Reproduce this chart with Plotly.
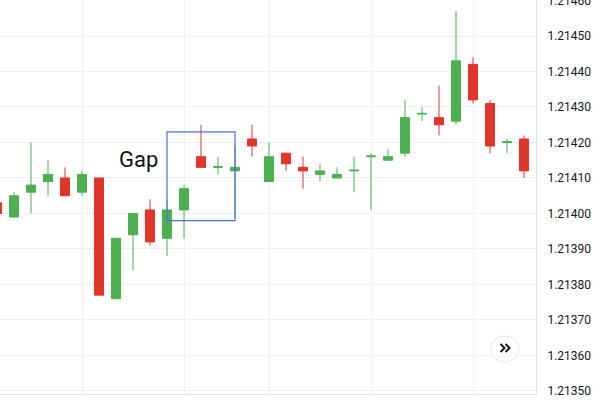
import plotly.graph_objects as go

# Candle index (bar slot) and OHLC values
idx = list(range(-1, 31))
opens = [1.21403, 1.21399, 1.21406, 1.21409, 1.21410, 1.21406, 1.21410, 1.21376, 1.21394, 1.21401,
         1.21393, 1.21401, 1.21416, 1.21413, 1.21412, 1.21421, 1.21409, 1.21417, 1.21413, 1.21411,
         1.21410, 1.21412, 1.21416, 1.21415, 1.21417, 1.21428, 1.21427, 1.21426, 1.21442, 1.21431,
         1.21420, 1.21421]
highs = [1.21403, 1.21406, 1.21420, 1.21415, 1.21413, 1.21412, 1.21410, 1.21393, 1.21400, 1.21404,
         1.21404, 1.21408, 1.21425, 1.21416, 1.21419, 1.21425, 1.21420, 1.21417, 1.21416, 1.21414,
         1.21413, 1.21416, 1.21417, 1.21418, 1.21432, 1.21430, 1.21436, 1.21457, 1.21444, 1.21432,
         1.21421, 1.21422]
lows = [1.21400, 1.21399, 1.21400, 1.21405, 1.21405, 1.21405, 1.21377, 1.21376, 1.21384, 1.21391,
        1.21388, 1.21393, 1.21413, 1.21411, 1.21399, 1.21416, 1.21409, 1.21412, 1.21407, 1.21409,
        1.21410, 1.21406, 1.21401, 1.21415, 1.21416, 1.21426, 1.21422, 1.21425, 1.21431, 1.21417,
        1.21417, 1.21410]
closes = [1.21400, 1.21405, 1.21408, 1.21411, 1.21405, 1.21411, 1.21377, 1.21393, 1.21400, 1.21392,
          1.21401, 1.21407, 1.21413, 1.214132, 1.21413, 1.21419, 1.21416, 1.21414, 1.21412, 1.21412,
          1.21411, 1.214122, 1.214162, 1.21416, 1.21427, 1.214282, 1.21425, 1.21443, 1.21432, 1.21419,
          1.214202, 1.21412]

tick_vals = [1.21350, 1.21360, 1.21370, 1.21380, 1.21390, 1.21400,
             1.21410, 1.21420, 1.21430, 1.21440, 1.21450, 1.21460]
tick_text = ["1.21350", "1.21360", "1.21370", "1.21380", "1.21390", "1.21400",
             "1.21410", "1.21420", "1.21430", "1.21440", "1.21450", "1.21460"]
grid_x = [4, 10, 15, 21, 27]

gap_x = [9, 13]
gap_y = [1.21398, 1.21423]

GREEN = "#4caf50"
RED = "#e0352b"
PW, PH = 536.0, 394.0  # plot area in pixels


def px(x):
    return x / PW


def py(y):
    return 1 - y / PH


fig = go.Figure()
fig.add_trace(go.Candlestick(
    x=idx, open=opens, high=highs, low=lows, close=closes,
    increasing=dict(line=dict(color=GREEN, width=1), fillcolor=GREEN),
    decreasing=dict(line=dict(color=RED, width=1), fillcolor=RED),
    whiskerwidth=0, hoverinfo="skip", showlegend=False,
))

fig.add_shape(type="rect", x0=gap_x[0], x1=gap_x[1], y0=gap_y[0], y1=gap_y[1],
              xref="x", yref="y", line=dict(color="#4a6fe3", width=1.2),
              fillcolor="rgba(0,0,0,0)")

fig.add_annotation(x=7.35, y=1.214153, xref="x", yref="y", text="Gap", showarrow=False,
                   font=dict(family="Roboto", size=22, color="#111111"))

# scroll button: circle with double chevron
fig.add_shape(type="circle", xref="paper", yref="paper",
              x0=px(491), x1=px(519), y0=py(362), y1=py(336),
              line=dict(color="#eceef2", width=1.5), fillcolor="white", layer="above")
for dx in (0, 5):
    fig.add_shape(type="path", xref="paper", yref="paper",
                  path=f"M {px(500.5 + dx)} {py(344)} L {px(504.5 + dx)} {py(348)} L {px(500.5 + dx)} {py(352)}",
                  line=dict(color="#131722", width=2), layer="above")

fig.update_layout(
    width=600, height=400,
    margin=dict(l=0, r=64, t=0, b=6, autoexpand=False),
    paper_bgcolor="white", plot_bgcolor="white",
    boxgap=0.24,
    xaxis=dict(range=[-0.8235, 30.706], tickvals=grid_x, showticklabels=False,
               showgrid=True, gridcolor="#eef0f4", gridwidth=1, zeroline=False,
               rangeslider=dict(visible=False), showline=True, linecolor="#dfe2e8",
               mirror=False, ticks="", automargin=False),
    yaxis=dict(side="right", range=[1.2134915, 1.2146014], tickvals=tick_vals,
               ticktext=tick_text, showgrid=True, gridcolor="#eef0f4", gridwidth=1,
               zeroline=False, showline=True, linecolor="#dfe2e8",
               tickfont=dict(family="Roboto", size=12, color="#131722"), ticks="",
               ticklabelstandoff=8, ticklabeloverflow="allow", automargin=False),
)

fig.write_html("out.html", config={"displayModeBar": False},
               post_script="document.body.style.margin='0';")
